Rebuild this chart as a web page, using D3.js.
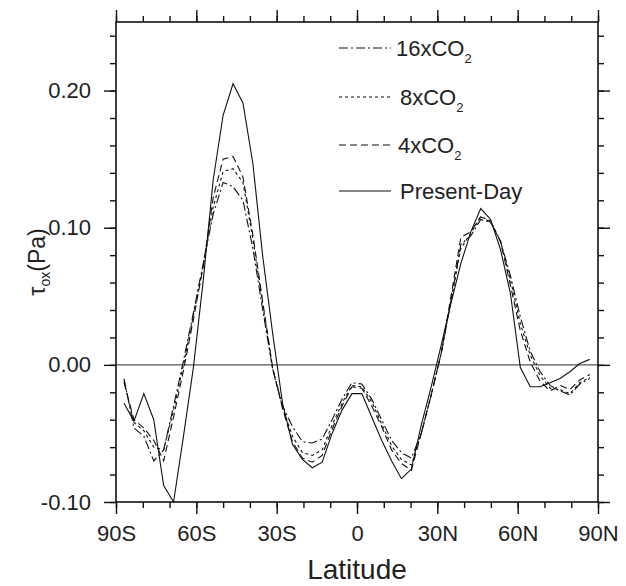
<!DOCTYPE html>
<html>
<head>
<meta charset="utf-8">
<script src="https://cdn.jsdelivr.net/npm/d3@7"></script>
<style>
  body { margin: 0; background: #fff; }
  text { font-family: "Liberation Sans", Arial, sans-serif; fill: #222; }
</style>
</head>
<body>
<div id="app"></div>
<script>
// latitude of each model grid point
const lats = [-87.0, -83.3, -79.6, -75.9, -72.2, -68.5, -64.8, -61.1, -57.4, -53.7,
  -50.0, -46.3, -42.6, -38.9, -35.2, -31.5, -27.8, -24.1, -20.4, -16.7,
  -13.0, -9.3, -5.6, -1.9, 1.8, 5.5, 9.2, 12.9, 16.6, 20.3,
  24.0, 27.7, 31.4, 35.1, 38.8, 42.5, 46.2, 49.9, 53.6, 57.3,
  61.0, 64.7, 68.4, 72.1, 75.8, 79.5, 83.2, 86.9];

const presentDay = [-0.028, -0.041, -0.021, -0.040, -0.088, -0.100, -0.052, -0.002, 0.062, 0.135,
  0.182, 0.205, 0.191, 0.147, 0.079, 0.023, -0.028, -0.058, -0.069, -0.075,
  -0.071, -0.050, -0.033, -0.021, -0.021, -0.038, -0.055, -0.070, -0.083, -0.076,
  -0.044, -0.016, 0.014, 0.045, 0.074, 0.097, 0.114, 0.106, 0.084, 0.052,
  -0.002, -0.016, -0.016, -0.013, -0.010, -0.005, 0.001, 0.004];

const co2x4 = [-0.013, -0.040, -0.046, -0.055, -0.070, -0.038, -0.004, 0.033, 0.072, 0.122,
  0.150, 0.152, 0.137, 0.095, 0.046, -0.002, -0.032, -0.056, -0.068, -0.071,
  -0.066, -0.047, -0.030, -0.016, -0.017, -0.030, -0.045, -0.062, -0.072, -0.077,
  -0.050, -0.022, 0.008, 0.050, 0.093, 0.097, 0.108, 0.104, 0.090, 0.058,
  0.025, 0.002, -0.012, -0.019, -0.015, -0.018, -0.011, -0.007];

const co2x8 = [-0.012, -0.042, -0.048, -0.060, -0.062, -0.033, 0.000, 0.036, 0.073, 0.115,
  0.141, 0.143, 0.133, 0.092, 0.044, -0.003, -0.031, -0.052, -0.064, -0.066,
  -0.062, -0.044, -0.028, -0.015, -0.016, -0.027, -0.043, -0.059, -0.069, -0.073,
  -0.050, -0.022, 0.008, 0.047, 0.085, 0.096, 0.108, 0.105, 0.090, 0.062,
  0.030, 0.007, -0.008, -0.017, -0.018, -0.021, -0.013, -0.009];

const co2x16 = [-0.010, -0.046, -0.052, -0.070, -0.062, -0.030, 0.003, 0.038, 0.074, 0.110,
  0.133, 0.130, 0.120, 0.085, 0.040, -0.003, -0.030, -0.045, -0.056, -0.057,
  -0.054, -0.040, -0.025, -0.013, -0.014, -0.025, -0.040, -0.055, -0.064, -0.068,
  -0.050, -0.022, 0.008, 0.046, 0.088, 0.094, 0.106, 0.104, 0.090, 0.065,
  0.035, 0.010, -0.005, -0.015, -0.019, -0.022, -0.014, -0.010];

const xTicks = [-90, -60, -30, 0, 30, 60, 90];
const xTickLabels = ['90S', '60S', '30S', '0', '30N', '60N', '90N'];
const yTicks = [-0.1, 0, 0.1, 0.2];
const yTickLabels = ['-0.10', '0.00', '0.10', '0.20'];

const series = [
  { name: '16xCO', values: co2x16, dash: '9,3,2,3' },
  { name: '8xCO', values: co2x8, dash: '3,3' },
  { name: '4xCO', values: co2x4, dash: '7,4' },
  { name: 'Present-Day', values: presentDay, dash: null }
];

const width = 626;
const height = 586;
const plotLeft = 116, plotRight = 598, plotTop = 22, plotBottom = 502;

const x = d3.scaleLinear().domain([-90, 90]).range([plotLeft, plotRight]);
const y = d3.scaleLinear().domain([-0.1, 0.25]).range([plotBottom, plotTop]);

const svg = d3.select('#app').append('svg')
  .attr('width', width)
  .attr('height', height);

// zero line
svg.append('line')
  .attr('x1', plotLeft).attr('x2', plotRight)
  .attr('y1', y(0)).attr('y2', y(0))
  .attr('stroke', '#555').attr('stroke-width', 1.2);

// curves
const line = d3.line()
  .x((d, i) => x(lats[i]))
  .y(d => y(d));

svg.append('g')
  .selectAll('path')
  .data(series)
  .enter()
    .append('path')
    .attr('d', d => line(d.values))
    .attr('fill', 'none')
    .attr('stroke', '#111')
    .attr('stroke-width', 1.1)
    .attr('stroke-dasharray', d => d.dash);

// axes: major + minor ticks on all four sides, ticks pointing outward
const minorX = d3.range(-90, 91, 10);
const minorY = d3.range(-0.1, 0.2501, 0.02);

const styleAxis = g => {
  g.select('.domain').remove();
  g.selectAll('line').attr('stroke', '#111').attr('stroke-width', 1.4);
  g.selectAll('text').attr('font-size', 22).attr('fill', '#222')
    .attr('font-family', '"Liberation Sans", Arial, sans-serif');
};

const addAxis = (axisFn, scale, ticks, minor, labels, pad, transform) => {
  svg.append('g').attr('transform', transform)
    .call(axisFn(scale).tickValues(minor).tickSize(6).tickFormat(''))
    .call(styleAxis);
  svg.append('g').attr('transform', transform)
    .call(axisFn(scale).tickValues(ticks).tickSize(12).tickPadding(pad)
      .tickFormat((d, i) => labels ? labels[i] : ''))
    .call(styleAxis);
};

addAxis(d3.axisBottom, x, xTicks, minorX, xTickLabels, 11, `translate(0, ${plotBottom})`);
addAxis(d3.axisTop, x, xTicks, minorX, null, 0, `translate(0, ${plotTop})`);
addAxis(d3.axisLeft, y, yTicks, minorY, yTickLabels, 13, `translate(${plotLeft}, 0)`);
addAxis(d3.axisRight, y, yTicks, minorY, null, 0, `translate(${plotRight}, 0)`);

// frame
svg.append('rect')
  .attr('x', plotLeft).attr('y', plotTop)
  .attr('width', plotRight - plotLeft).attr('height', plotBottom - plotTop)
  .attr('fill', 'none').attr('stroke', '#111').attr('stroke-width', 1.6);

// axis titles
svg.append('text')
  .attr('x', (plotLeft + plotRight) / 2)
  .attr('y', 579)
  .attr('text-anchor', 'middle')
  .attr('font-size', 28)
  .text('Latitude');

const yTitle = svg.append('text')
  .attr('transform', `translate(45, ${(plotTop + plotBottom) / 2}) rotate(-90)`)
  .attr('text-anchor', 'middle')
  .attr('font-size', 23);
yTitle.append('tspan').text('τ');
yTitle.append('tspan').attr('font-size', 14).attr('dy', 5).text('ox');
yTitle.append('tspan').attr('dy', -5).text('(Pa)');

// legend
const legendY = [48, 97, 145, 191];
const legendTextX = [57, 61, 59, 61];
const legend = svg.append('g')
  .selectAll('g')
  .data(series)
  .enter()
    .append('g')
    .attr('transform', (d, i) => `translate(339, ${legendY[i]})`);

legend.append('line')
  .attr('x1', 0).attr('x2', 52)
  .attr('stroke', '#111').attr('stroke-width', 1.1)
  .attr('stroke-dasharray', d => d.dash);

const legendText = legend.append('text')
  .attr('x', (d, i) => legendTextX[i])
  .attr('dy', '0.35em')
  .attr('font-size', 22);
legendText.append('tspan').text(d => d.name);
legendText.filter(d => d.dash !== null)
  .append('tspan').attr('font-size', 13).attr('dy', 7).text('2');
</script>
</body>
</html>
